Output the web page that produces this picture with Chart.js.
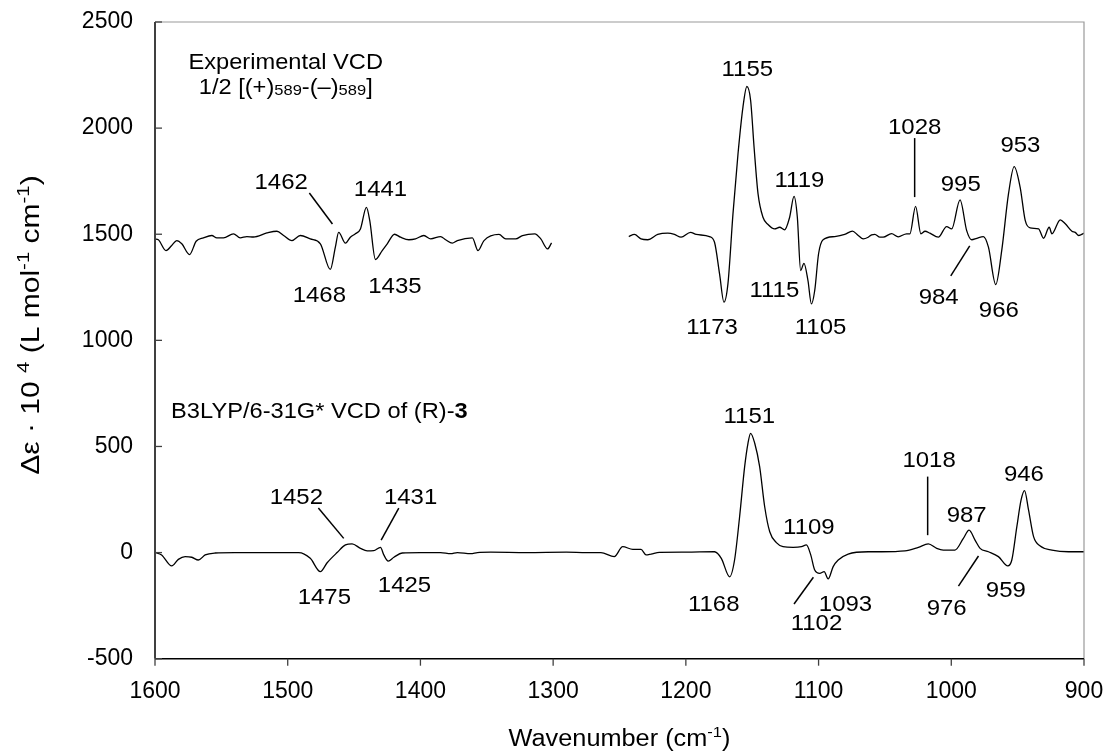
<!DOCTYPE html>
<html><head><meta charset="utf-8">
<script src="https://cdn.jsdelivr.net/npm/chart.js@4/dist/chart.umd.min.js"></script>
<style>html,body{margin:0;padding:0;background:#fff;}#wrap{width:1104px;height:752px;}</style>
</head><body><div id="wrap"><canvas id="c" width="1104" height="752"></canvas></div>
<script>
// ---- data ----
const xTicks = [1600, 1500, 1400, 1300, 1200, 1100, 1000, 900];
const yTicks = [-500, 0, 500, 1000, 1500, 2000, 2500];

// Experimental VCD, segment 1 (1600-1301 cm-1)
const expWnA = [1600,1597.5,1591.7,1587.4,1583.6,1579.8,1574,1569,1563.5,1557.2,1553.4,1548.4,1540.9,1535.8,1530.8,1525.8,1515.7,1508.1,1503.1,1496.8,1490.5,1483,1475.4,1467.9,1464.1,1461.6,1456.5,1452.8,1449,1445.2,1440.7,1438.2,1433.9,1428.8,1425,1419.5,1415,1408.7,1403.7,1397.4,1392.3,1384.8,1381,1376,1372.2,1360.9,1356.6,1352.1,1340.8,1335.7,1328.2,1323.1,1313.8,1309.3,1304.2,1301.2];
const expValA = [1478,1474,1423,1447,1470,1455,1404,1467,1483,1494,1483,1483,1502,1483,1489,1487,1506,1514,1494,1470,1494,1478,1455,1334,1439,1509,1458,1486,1502,1525,1627,1565,1381,1423,1455,1500,1486,1474,1478,1494,1478,1489,1474,1458,1470,1483,1423,1470,1499,1478,1478,1494,1502,1478,1431,1459];
// Experimental VCD, segment 2 (1243-900 cm-1)
const expWnB = [1243,1238.8,1233.8,1228.7,1221.2,1213.6,1208.6,1203.6,1196.5,1192.2,1182.2,1178.4,1174.6,1171.3,1168.3,1164.5,1160.7,1157,1154,1151.2,1148.6,1145.6,1141.9,1138.1,1133.1,1129.3,1125.6,1121.8,1118.5,1116,1113.5,1111,1108,1105.4,1102.9,1100,1096.6,1087.8,1080.3,1074.5,1070.1,1066.4,1062.6,1060.1,1057.6,1053.8,1051.3,1045,1040,1033.7,1031.2,1026.9,1022.9,1019.8,1016.1,1009.8,1003.5,999.7,993.4,988.4,984.6,980.8,975.8,972,966.5,962,956.9,952.6,948.1,944.3,940.6,934.2,930.5,926.2,924.2,917.9,914.1,909.1,906.6,904,900];
const expValB = [1489,1499,1478,1474,1499,1505,1499,1486,1509,1499,1489,1462,1313,1180,1266,1596,1879,2098,2196,2130,1910,1690,1580,1546,1525,1533,1521,1580,1678,1580,1329,1363,1282,1172,1235,1408,1474,1489,1499,1515,1494,1478,1486,1497,1499,1486,1486,1503,1488,1502,1502,1631,1502,1514,1505,1486,1536,1525,1662,1517,1474,1481,1489,1439,1263,1423,1690,1819,1721,1565,1530,1525,1481,1533,1502,1568,1549,1514,1509,1494,1505];
// B3LYP/6-31G* calculated VCD
const calcWn = [1600,1595,1587.4,1582.4,1577.3,1572.3,1567.3,1562.2,1554.7,1540,1520,1500,1491.8,1483,1475.4,1470.3,1462.8,1456.5,1451.5,1445.2,1440.1,1435.2,1430.1,1427.6,1424.3,1420,1413.7,1400,1384.8,1377.2,1372.2,1362.1,1357.1,1347,1320,1290,1275,1264,1253.9,1247.6,1240,1233.8,1230,1226.2,1219.9,1200,1178.4,1173.3,1167,1163.3,1159.5,1155.7,1153.2,1151.2,1148.1,1144.4,1140.6,1136.8,1131.8,1126.8,1119.2,1112.9,1109.2,1105.9,1102.9,1099.1,1095.8,1092.8,1089,1085.2,1077.7,1062.6,1052.5,1034.9,1024.8,1017.3,1011,1006,997.2,990.9,986.6,982.1,978.3,972,964.5,957.4,954.4,950.6,947.4,944.8,941.8,938,933,924.2,911.6,900];
const calcVal = [1,-11,-63,-32,-19,-22,-35,-11,-2,0,0,0,0,-27,-90,-48,0,36,41,20,8,9,25,-11,-40,-22,-2,0,0,-5,0,-5,0,2,0,2,0,0,-19,28,15,15,-11,-7,1,2,4,-27,-114,-35,169,405,515,562,515,405,216,98,47,28,25,28,36,-11,-82,-98,-90,-124,-66,-35,-7,4,4,8,25,41,20,12,12,67,106,59,20,4,-19,-63,-35,122,248,292,201,75,31,12,4,4];

// peak annotations (text, anchor wavenumber, anchor value)
const labelText = ['1462','1441','1468','1435','1155','1119','1115','1173','1105','1028','995','953','984','966','1452','1431','1475','1425','1151','1109','1168','1093','1102','1018','987','946','976','959'];
const labelWn  = [1504.9,1430.1,1476.2,1419.2,1153.7,1114.4,1133.3,1180.2,1098.5,1027.6,992.9,947.9,1009.5,964.2,1493.5,1407.4,1472.4,1412.0,1152.2,1107.3,1179.0,1079.7,1101.6,1016.7,988.4,945.3,1003.5,958.9];
const labelVal = [1751,1718,1218,1261,2285,1761,1242,1068,1068,2010,1739,1925,1209,1148,267,267,-205,-148,649,125,-238,-238,-327,441,182,375,-256,-172];
// leader lines: [wn1, val1, wn2, val2]
const leaderLines = [
  [1483.7,1694,1466.3,1548],
  [1027.6,1953,1027.6,1675],
  [986.1,1445,1000.4,1304],
  [1476.9,210,1457.8,67],
  [1416.3,210,1429.6,59],
  [1103.9,-116,1118.5,-242],
  [1017.8,358,1017.8,82],
  [979.5,-16,994.6,-158]
];
// panel captions anchors
const expCaptionWn = 1501.5, expCaptionVal1 = 2316, expCaptionVal2 = 2198;
const calcCaptionWn = 1587.9, calcCaptionVal = 672;

// ---- drawing ----
const FONT = '"Liberation Sans", Arial, sans-serif';
function drawRich(ctx, segs, x, y, align, sx) {
  let w = 0;
  segs.forEach(s => { ctx.font = (s.bold ? 'bold ' : '') + s.size + 'px ' + FONT; s.w = ctx.measureText(s.t).width; w += s.w; });
  ctx.save();
  ctx.translate(x, y);
  ctx.scale(sx, 1);
  let cx = align === 'center' ? -w / 2 : (align === 'right' ? -w : 0);
  ctx.textAlign = 'left'; ctx.textBaseline = 'alphabetic'; ctx.fillStyle = '#000';
  segs.forEach(s => { ctx.font = (s.bold ? 'bold ' : '') + s.size + 'px ' + FONT; ctx.fillText(s.t, cx, s.dy || 0); cx += s.w; });
  ctx.restore();
}

const decor = {
  id: 'decor',
  afterDraw(chart) {
    const ctx = chart.ctx, a = chart.chartArea, xs = chart.scales.x, ys = chart.scales.y;
    ctx.save();
    // frame
    ctx.lineCap = 'butt';
    ctx.strokeStyle = '#9a9a9a'; ctx.lineWidth = 1.2;
    ctx.beginPath(); ctx.moveTo(a.left, a.top); ctx.lineTo(a.right, a.top); ctx.lineTo(a.right, a.bottom); ctx.stroke();
    ctx.strokeStyle = '#000'; ctx.lineWidth = 1.5;
    ctx.beginPath(); ctx.moveTo(a.left, a.bottom); ctx.lineTo(a.right, a.bottom); ctx.stroke();
    ctx.strokeStyle = '#404040'; ctx.lineWidth = 2;
    ctx.beginPath(); ctx.moveTo(a.left, a.top); ctx.lineTo(a.left, a.bottom); ctx.stroke();
    // ticks
    ctx.lineWidth = 1.3; ctx.strokeStyle = '#404040';
    xTicks.forEach(v => { const px = xs.getPixelForValue(v); ctx.beginPath(); ctx.moveTo(px, a.bottom); ctx.lineTo(px, a.bottom + 7); ctx.stroke(); });
    yTicks.forEach(v => { const py = ys.getPixelForValue(v); ctx.beginPath(); ctx.moveTo(a.left, py); ctx.lineTo(a.left + 7, py); ctx.stroke(); });
    // leader lines
    ctx.strokeStyle = '#000'; ctx.lineWidth = 1.5;
    leaderLines.forEach(l => {
      ctx.beginPath();
      ctx.moveTo(xs.getPixelForValue(l[0]), ys.getPixelForValue(l[1]));
      ctx.lineTo(xs.getPixelForValue(l[2]), ys.getPixelForValue(l[3]));
      ctx.stroke();
    });
    // peak labels
    const LS = 22, LSX = 1.09;
    labelText.forEach((t, i) => {
      const px = xs.getPixelForValue(labelWn[i]), py = ys.getPixelForValue(labelVal[i]);
      drawRich(ctx, [{t, size: LS}], px, py + 0.358 * LS, 'center', LSX);
    });
    // captions
    const CS = 21.5, CSX = 1.1;
    let px = xs.getPixelForValue(expCaptionWn);
    drawRich(ctx, [{t: 'Experimental VCD', size: CS}], px, ys.getPixelForValue(expCaptionVal1) + 0.358 * CS, 'center', CSX);
    drawRich(ctx, [{t: '1/2 [(+)', size: CS}, {t: '589', size: 15, dy: 1}, {t: '-(\u2013)', size: CS}, {t: '589', size: 15, dy: 1}, {t: ']', size: CS}],
      px, ys.getPixelForValue(expCaptionVal2) + 0.358 * CS, 'center', CSX);
    drawRich(ctx, [{t: 'B3LYP/6-31G* VCD of (R)-', size: CS}, {t: '3', size: CS, bold: true}],
      xs.getPixelForValue(calcCaptionWn), ys.getPixelForValue(calcCaptionVal) + 0.358 * CS, 'left', CSX);
    // axis titles
    const TS = 23;
    drawRich(ctx, [{t: 'Wavenumber (cm', size: TS}, {t: '-1', size: 15, dy: -9}, {t: ')', size: TS}],
      (a.left + a.right) / 2, 738 + 0.358 * TS, 'center', 1.1);
    const YS = 25;
    ctx.save();
    ctx.translate(30, 325);
    ctx.rotate(-Math.PI / 2);
    drawRich(ctx, [{t: '\u0394\u03b5 \u00b7 10 ', size: YS}, {t: '4', size: 17, dy: -10}, {t: ' (L mol', size: YS}, {t: '-1', size: 17, dy: -10}, {t: ' cm', size: YS}, {t: '-1', size: 17, dy: -10}, {t: ')', size: YS}],
      0, 0.358 * YS, 'center', 1.2);
    ctx.restore();
    ctx.restore();
  }
};

const pts = (xs, ys) => xs.map((x, i) => ({x, y: ys[i]}));
const lineStyle = {showLine: true, borderColor: '#000', borderWidth: 1.3, pointRadius: 0, cubicInterpolationMode: 'monotone', fill: false};

new Chart(document.getElementById('c').getContext('2d'), {
  type: 'scatter',
  data: {datasets: [
    Object.assign({label: 'Experimental VCD', data: pts(expWnA, expValA)}, lineStyle),
    Object.assign({label: 'Experimental VCD (2)', data: pts(expWnB, expValB)}, lineStyle),
    Object.assign({label: 'B3LYP/6-31G* VCD', data: pts(calcWn, calcVal)}, lineStyle)
  ]},
  options: {
    responsive: false, animation: false, devicePixelRatio: 1,
    layout: {padding: {left: 0, right: 20, top: 22, bottom: 0}},
    plugins: {legend: {display: false}, tooltip: {enabled: false}, title: {display: false}},
    scales: {
      x: {type: 'linear', reverse: true, min: 900, max: 1600,
          afterBuildTicks: s => { s.ticks = xTicks.map(v => ({value: v})); },
          afterFit: s => { s.height = 93.3; s.paddingLeft = 0; s.paddingRight = 0; },
          grid: {display: false, drawTicks: false}, border: {display: false},
          ticks: {color: '#000', font: {family: FONT, size: 23}, padding: 19, maxRotation: 0, autoSkip: false, callback: v => String(v)}},
      y: {type: 'linear', min: -500, max: 2500,
          afterBuildTicks: s => { s.ticks = yTicks.map(v => ({value: v})); },
          afterFit: s => { s.width = 155; s.paddingTop = 0; s.paddingBottom = 0; },
          grid: {display: false, drawTicks: false}, border: {display: false},
          ticks: {color: '#000', font: {family: FONT, size: 23}, padding: 22, autoSkip: false, callback: v => String(v)}}
    }
  },
  plugins: [decor]
});
</script></body></html>
